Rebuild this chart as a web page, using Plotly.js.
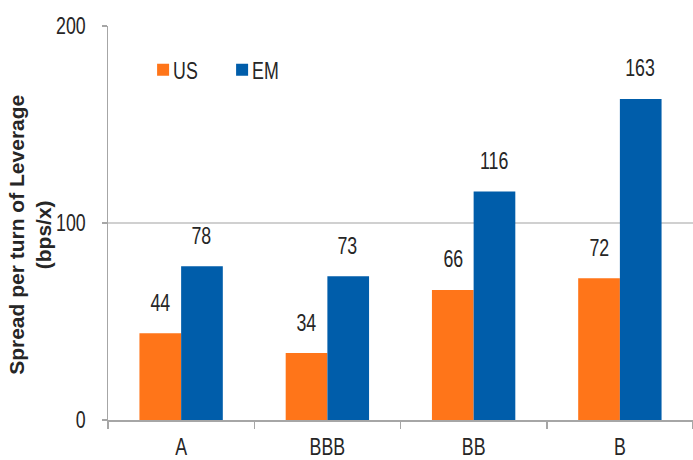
<!DOCTYPE html>
<html>
<head>
<meta charset="utf-8">
<script src="https://cdn.plot.ly/plotly-3.0.1.min.js"></script>
<style>html,body{margin:0;padding:0;background:#fff;}#chart{width:693px;height:460px;}</style>
</head>
<body>
<div id="chart"></div>
<script>
const categories = ["A", "BBB", "BB", "B"];
const usValues = [44, 34, 66, 72];
const emValues = [78, 73, 116, 163];
const seriesNames = ["US", "EM"];
const yTicks = [0, 100, 200];
const yTitle = "Spread per turn of Leverage<br>(bps/x)";

const FONT = "'Liberation Sans', Arial, sans-serif";
const TXT = "#262626";
const colors = ["#FF7519", "#005DAA"];
const SQUEEZE = 0.74; // condensed look of the original labels

const traces = [usValues, emValues].map((vals, i) => ({
  type: "bar",
  name: seriesNames[i],
  x: categories,
  y: vals,
  marker: {color: colors[i], line: {width: 0}},
  hoverinfo: "skip"
}));

const annotations = [];
[usValues, emValues].forEach((vals, si) => {
  vals.forEach((v, ci) => {
    annotations.push({
      x: categories[ci], y: v, xref: "x", yref: "y",
      text: String(v), showarrow: false,
      xshift: si === 0 ? -20.5 : 20.5,
      yshift: 31, yanchor: "middle",
      font: {family: FONT, size: 24, color: TXT}
    });
  });
});
// y-axis title (placed as rotated annotation to match vertical position)
annotations.push({
  xref: "paper", yref: "paper", x: -0.1333, y: 0.47,
  xanchor: "center", yanchor: "middle", showarrow: false,
  textangle: -90, text: yTitle,
  font: {family: FONT, size: 21, color: TXT, weight: "bold"},
  name: "ytitle"
});

const layout = {
  width: 693, height: 460,
  margin: {l: 108, r: 0, t: 26, b: 40},
  paper_bgcolor: "#fff", plot_bgcolor: "#fff",
  barmode: "group", bargap: 0.43, bargroupgap: 0,
  showlegend: true,
  legend: {
    orientation: "h", x: 0.06, y: 0.888, xanchor: "left", yanchor: "middle",
    font: {family: FONT, size: 24, color: TXT},
    entrywidth: 34, entrywidthmode: "pixels",
    bgcolor: "rgba(0,0,0,0)"
  },
  xaxis: {
    type: "category",
    showline: true, linecolor: "#a6a6a6", linewidth: 1.5,
    ticks: "outside", tickson: "boundaries", ticklen: 7, tickcolor: "#a6a6a6", tickwidth: 1.5,
    showgrid: false, zeroline: false,
    tickfont: {family: FONT, size: 24, color: TXT},
    ticklabelstandoff: 5
  },
  yaxis: {
    range: [0, 200], tickvals: yTicks, ticktext: yTicks.map(String),
    showline: true, linecolor: "#a6a6a6", linewidth: 1.5,
    ticks: "outside", ticklen: 5, tickcolor: "#a6a6a6", tickwidth: 1.5,
    showgrid: true, gridcolor: "#d0d0d0", gridwidth: 1.5,
    zeroline: false,
    tickfont: {family: FONT, size: 24, color: TXT},
    ticklabelstandoff: 11
  },
  annotations: annotations
};

function squeezeText() {
  const sel = '#chart .xtick text, #chart .ytick text, #chart .annotation-text, #chart .legendtext';
  document.querySelectorAll(sel).forEach(t => {
    if (t.closest('.annotation') && t.textContent.indexOf('Spread') >= 0) return;
    t.removeAttribute('textLength');
    const before = t.getBBox();
    const w = t.getComputedTextLength();
    if (!(w > 0)) return;
    t.setAttribute('textLength', (w * SQUEEZE).toFixed(2));
    t.setAttribute('lengthAdjust', 'spacingAndGlyphs');
    const after = t.getBBox();
    const anchor = getComputedStyle(t).textAnchor || t.getAttribute('text-anchor') || 'start';
    let dx = 0;
    if (anchor === 'end') dx = (before.x + before.width) - (after.x + after.width);
    else if (anchor === 'middle') dx = (before.x + before.width / 2) - (after.x + after.width / 2);
    else dx = before.x - after.x;
    if (t.classList.contains('legendtext')) {
      t.setAttribute('x', 30);
    } else if (Math.abs(dx) > 0.01) {
      const x0 = parseFloat(t.getAttribute('x') || '0');
      t.setAttribute('x', (x0 + dx).toFixed(2));
    }
  });
}

Plotly.newPlot("chart", traces, layout, {staticPlot: true, displayModeBar: false})
  .then(squeezeText);
</script>
</body>
</html>
